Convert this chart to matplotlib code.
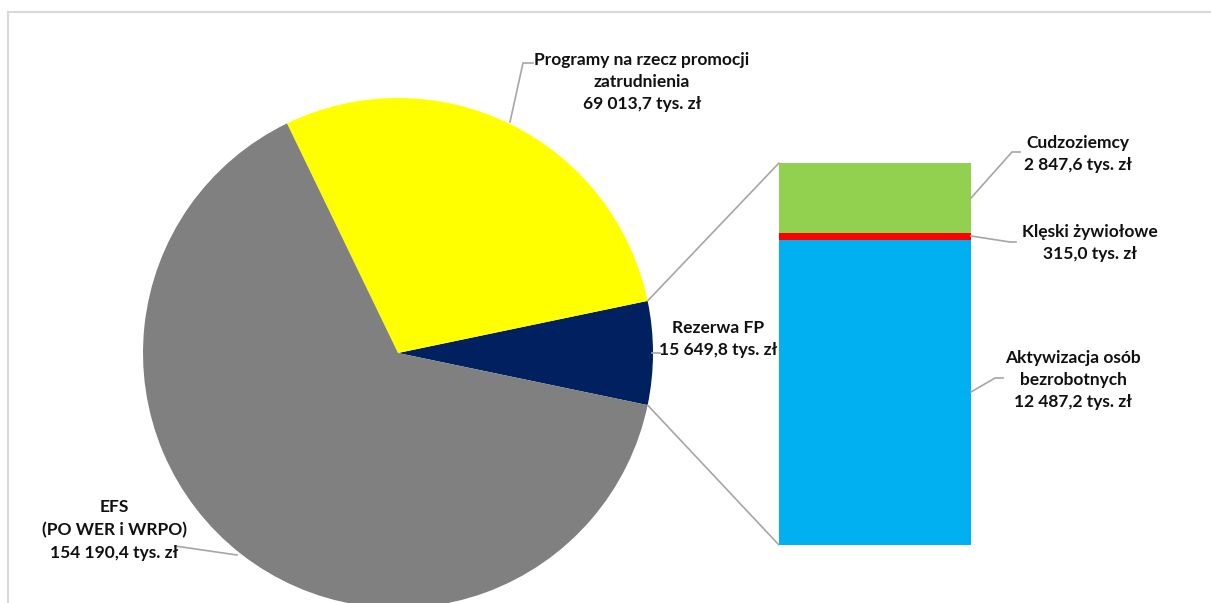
import matplotlib.pyplot as plt
import numpy as np
from matplotlib.patches import ConnectionPatch, Rectangle

# pie data (thousand PLN)
pie_labels = ['Rezerwa FP', 'Programy na rzecz promocji\nzatrudnienia', 'EFS\n(PO WER i WRPO)']
pie_values = [15649.8, 69013.7, 154190.4]
pie_colors = ['#002060', '#FFFF00', '#808080']

# breakdown of "Rezerwa FP"
bar_labels = ['Aktywizacja osób\nbezrobotnych', 'Klęski żywiołowe', 'Cudzoziemcy']
bar_values = [12487.2, 315.0, 2847.6]
bar_colors = ['#00B0F0', '#FF0000', '#92D050']


def fmt(v):
    s = f"{v:,.1f}".replace(',', ' ').replace('.', ',')
    return s + ' tys. zł'


W, H = 1211, 603
fig = plt.figure(figsize=(W / 100, H / 100), dpi=100)
plt.rcParams['font.family'] = ['Lato', 'DejaVu Sans']

# frame
fig.patches.append(Rectangle((8 / W, -0.1), 1.2, (H - 12) / H + 0.1, transform=fig.transFigure,
                             fill=False, edgecolor='#d9d9d9', linewidth=1.5))

# pie
cx, cy, r = 398, 353, 255
ax_pie = fig.add_axes([(cx - r) / W, (H - cy - r) / H, 2 * r / W, 2 * r / H])
total = sum(pie_values)
half = 360 * pie_values[0] / total / 2
wedges, _ = ax_pie.pie(pie_values, colors=pie_colors, startangle=-half, counterclock=True,
                       radius=1, wedgeprops=dict(linewidth=0))
ax_pie.set_xlim(-1, 1)
ax_pie.set_ylim(-1, 1)
ax_pie.axis('off')

# stacked bar
bx0, bx1, by0, by1 = 779, 971, 163, 545
ax_bar = fig.add_axes([bx0 / W, (H - by1) / H, (bx1 - bx0) / W, (by1 - by0) / H])
bottom = 0
for v, c in zip(bar_values, bar_colors):
    ax_bar.bar(0, v, width=1, bottom=bottom, color=c, linewidth=0)
    bottom += v
ax_bar.set_xlim(-0.5, 0.5)
ax_bar.set_ylim(0, sum(bar_values))
ax_bar.axis('off')

# connector lines pie -> bar
for ang, ybar in [(half, sum(bar_values)), (-half, 0)]:
    a = np.deg2rad(ang)
    con = ConnectionPatch(xyA=(np.cos(a), np.sin(a)), coordsA=ax_pie.transData,
                          xyB=(-0.5, ybar), coordsB=ax_bar.transData,
                          color='#a6a6a6', linewidth=1.2)
    fig.add_artist(con)

# overlay for labels
ov = fig.add_axes([0, 0, 1, 1], zorder=5)
ov.set_xlim(0, W)
ov.set_ylim(H, 0)
ov.axis('off')
ov.patch.set_alpha(0)

tkw = dict(fontsize=12.5, fontweight='bold', color='#111111', ha='center', va='center',
           linespacing=1.5)
lkw = dict(color='#a6a6a6', linewidth=1.2)

ov.text(642, 82, pie_labels[1] + '\n' + fmt(pie_values[1]), **tkw)
ov.plot([510, 523, 533], [122, 63, 63], **lkw)

ov.text(718, 339, pie_labels[0] + '\n' + fmt(pie_values[0]), **tkw)
ov.plot([652, 660], [353, 353], **lkw)

ov.text(114, 530, pie_labels[2] + '\n' + fmt(pie_values[2]), **tkw)
ov.plot([175, 237], [546, 555], **lkw)

ov.text(1078, 154, bar_labels[2] + '\n' + fmt(bar_values[2]), **tkw)
ov.plot([971, 1012, 1020], [198, 152, 152], **lkw)

ov.text(1090, 243, bar_labels[1] + '\n' + fmt(bar_values[1]), **tkw)
ov.plot([971, 1010, 1016], [236, 242, 242], **lkw)

ov.text(1073, 380, bar_labels[0] + '\n' + fmt(bar_values[0]), **tkw)
ov.plot([971, 995, 1003], [392, 378, 378], **lkw)

fig.savefig('out.png', dpi=100)
